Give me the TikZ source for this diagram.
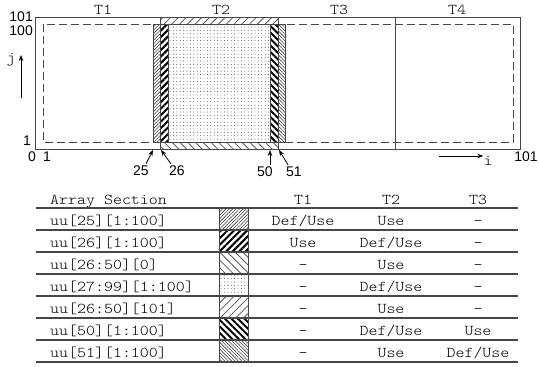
\documentclass[tikz,border=0pt]{standalone}
\usepackage{fontspec}
\setmonofont{Latin Modern Mono Light}[FakeStretch=1.14]
\setsansfont{Liberation Sans}
\usetikzlibrary{arrows.meta,patterns.meta}
\definecolor{ink}{RGB}{70,70,70}
\tikzset{
  frame/.style={draw=ink,line width=1pt},
  rule/.style={draw=ink,line width=1.1pt},
  tt/.style={font=\fontsize{15}{18}\selectfont\ttfamily,inner sep=0pt},
  num/.style={font=\fontsize{14}{16}\selectfont\sffamily,inner sep=0pt},
  arr/.style={-{Stealth[length=6pt,width=4.5pt]},line width=.8pt},
  p25/.style={pattern={Lines[angle=45,distance=2.4pt,line width=.6pt]},pattern color=black!75},
  p26/.style={pattern={Lines[angle=45,distance=4.6pt,line width=2pt]},pattern color=black},
  pbot/.style={pattern={Lines[angle=-45,distance=5.5pt,line width=.8pt]},pattern color=black!65},
  pin/.style={pattern={Dots[radius=.45pt,distance=3.4pt]},pattern color=black!80},
  ptop/.style={pattern={Lines[angle=45,distance=5.5pt,line width=.8pt]},pattern color=black!65},
  p50/.style={pattern={Lines[angle=-45,distance=4.6pt,line width=2pt]},pattern color=black},
  p51/.style={pattern={Lines[angle=-45,distance=2.4pt,line width=.6pt]},pattern color=black!75},
}
\begin{document}
\begin{tikzpicture}[x=1pt,y=-1pt]
  \useasboundingbox (0,0) rectangle (539,367);
  % iteration space
  \draw[frame] (35,17) rectangle (520,149);
  \draw[ink,line width=.9pt,dash pattern=on 8pt off 4pt] (43,24) rectangle (513,142);
  \draw[frame] (395,17) -- (395,149);
  \draw[frame,ptop] (160,17) rectangle (278,24);
  \draw[frame,pbot] (160,142) rectangle (278,149);
  \draw[frame,pin] (168,24) rectangle (270,142);
  \draw[frame,p26] (160,24) rectangle (168,142);
  \draw[frame,p50] (270,24) rectangle (278,142);
  \draw[frame,p25] (153,24) rectangle (160,142);
  \draw[frame,p51] (278,24) rectangle (285,142);
  \node[tt] (t1) at (103,10) {T1};
  \node[tt] (t2) at (221,10) {T2};
  \node[tt] (t3) at (339,10) {T3};
  \node[tt] (t4) at (457,10) {T4};
  % axis labels
  \node[num,anchor=east] (j101) at (33,17) {101};
  \node[num,anchor=east] (j100) at (33,31) {100};
  \node[num,anchor=east] (j1) at (31,141) {1};
  \node[num] (i0) at (32,157) {0};
  \node[num] (i1) at (47,157) {1};
  \node[num] (i101) at (526,157) {101};
  \node[tt] (j) at (11,60) {j};
  \coordinate (jlo) at (21,98);
  \coordinate (jhi) at (21,55);
  \draw[arr] (jlo) -- (jhi);
  \node[tt] (i) at (488,161) {i};
  \coordinate (ilo) at (439,156);
  \draw[arr] (ilo) -- (i.west |- ilo);
  % column markers
  \node[num] (c25) at (141,171) {25};
  \node[num] (c26) at (177,171) {26};
  \node[num] (c50) at (265,172) {50};
  \node[num] (c51) at (294,172) {51};
  \coordinate (k25) at (153,150);
  \coordinate (k26) at (161,150);
  \coordinate (k50) at (270,150);
  \coordinate (k51) at (279,150);
  \draw[arr] ([shift={(5,-2)}]c25.north) -- (k25);
  \draw[arr] ([shift={(-6,-2)}]c26.north) -- (k26);
  \draw[arr] ([shift={(5,-2)}]c50.north) -- (k50);
  \draw[arr] ([shift={(-6,-2)}]c51.north) -- (k51);
  % table
  \node[tt,anchor=base west] (hsec) at (50,204) {Array Section};
  \node[tt,anchor=base] (h1) at (303,204) {T1};
  \node[tt,anchor=base] (h2) at (391,204) {T2};
  \node[tt,anchor=base] (h3) at (478,204) {T3};
  \foreach \sec/\pat/\ta/\tb/\tc [count=\r from 0] in {
      {uu[25][1:100]}/p25/{Def/Use}/Use/-,
      {uu[26][1:100]}/p26/Use/{Def/Use}/-,
      {uu[26:50][0]}/pbot/-/Use/-,
      {uu[27:99][1:100]}/pin/-/{Def/Use}/-,
      {uu[26:50][101]}/ptop/-/Use/-,
      {uu[50][1:100]}/p50/-/{Def/Use}/Use,
      {uu[51][1:100]}/p51/-/Use/{Def/Use}} {
    \pgfmathsetmacro\yt{208+22*\r}
    \draw[frame,\pat] (219,\yt) rectangle (248,\yt+22);
    \node[tt,anchor=base west] (s\r) at (50,\yt+17) {\sec};
    \node[tt,anchor=base] (a\r) at (303,\yt+17) {\ta};
    \node[tt,anchor=base] (b\r) at (391,\yt+17) {\tb};
    \node[tt,anchor=base] (c\r) at (478,\yt+17) {\tc};
  }
  \foreach \y in {208,230,...,362}
    \draw[rule] (36,\y) -- (518,\y);
\end{tikzpicture}
\end{document}
